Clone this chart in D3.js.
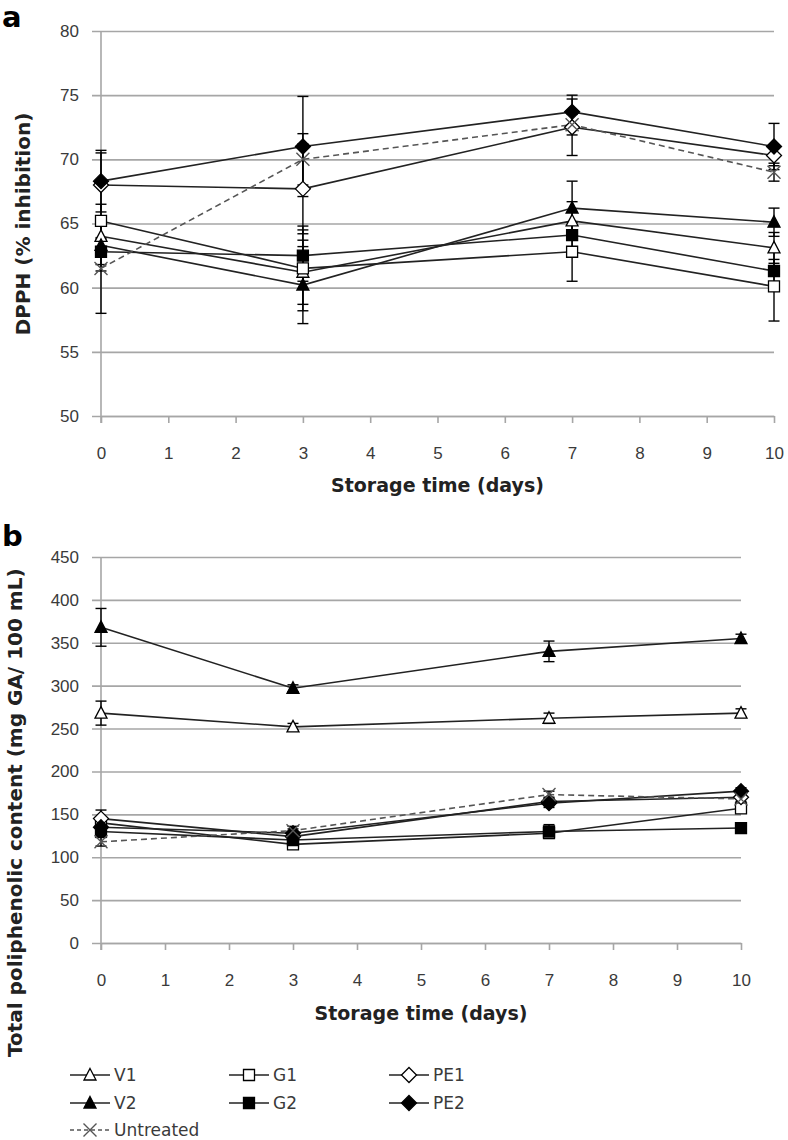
<!DOCTYPE html>
<html>
<head>
<meta charset="utf-8">
<script src="https://cdn.jsdelivr.net/npm/d3@7"></script>
<style>
  body { margin: 0; background: #fff; }
  svg { display: block; font-family: "DejaVu Sans", Verdana, sans-serif; }
</style>
</head>
<body>
<svg id="chart" width="788" height="1140"></svg>
<script>
// storage days
const days = [0, 3, 7, 10];
const xTicks = [0, 1, 2, 3, 4, 5, 6, 7, 8, 9, 10];
const seriesNames = ["V1", "G1", "PE1", "V2", "G2", "PE2", "Untreated"];

// panel a: DPPH (% inhibition)
const dpphTicks = [50, 55, 60, 65, 70, 75, 80];
const v1Dpph = [64.0, 61.2, 65.2, 63.1];
const g1Dpph = [65.2, 61.5, 62.8, 60.1];
const pe1Dpph = [68.0, 67.7, 72.5, 70.3];
const v2Dpph = [63.3, 60.2, 66.2, 65.1];
const g2Dpph = [62.8, 62.5, 64.1, 61.3];
const pe2Dpph = [68.3, 71.0, 73.7, 71.0];
const untreatedDpph = [61.5, 70.0, 72.7, 69.0];
const v1DpphErr = [1.5, 2.5, 1.5, 1.2];
const g1DpphErr = [1.3, 3.3, 2.3, 2.7];
const pe1DpphErr = [2.5, 3.5, 2.2, 0.8];
const v2DpphErr = [2.0, 3.0, 2.1, 1.1];
const g2DpphErr = [1.0, 2.0, 1.0, 0.9];
const pe2DpphErr = [2.4, 3.9, 1.3, 1.8];
const untreatedDpphErr = [3.5, 2.0, 0.8, 0.7];

// panel b: total poliphenolic content
const tpcTicks = [0, 50, 100, 150, 200, 250, 300, 350, 400, 450];
const v1Tpc = [268, 252, 262, 268];
const g1Tpc = [140, 115, 128, 157];
const pe1Tpc = [145, 124, 165, 170];
const v2Tpc = [368, 297, 340, 355];
const g2Tpc = [130, 120, 130, 134];
const pe2Tpc = [135, 128, 163, 177];
const untreatedTpc = [118, 131, 173, 168];
const v1TpcErr = [14, 4, 6, 5];
const g1TpcErr = [6, 4, 5, 5];
const pe1TpcErr = [10, 5, 5, 5];
const v2TpcErr = [22, 4, 12, 5];
const g2TpcErr = [6, 5, 8, 4];
const pe2TpcErr = [8, 5, 5, 4];
const untreatedTpcErr = [5, 5, 4, 4];

const markers = {
  V1: { shape: "triangle", fill: "#fff" },
  G1: { shape: "square", fill: "#fff" },
  PE1: { shape: "diamond", fill: "#fff" },
  V2: { shape: "triangle", fill: "#000" },
  G2: { shape: "square", fill: "#000" },
  PE2: { shape: "diamond", fill: "#000" },
  Untreated: { shape: "cross", fill: "none" },
};

const gridColor = "#a6a6a6";
const lineColor = "#222";
const textColor = "#3a3a3a";

function markerPath(shape) {
  if (shape === "triangle") return "M0,-6.5L6,5L-6,5Z";
  if (shape === "square") return "M-5.5,-5.5H5.5V5.5H-5.5Z";
  if (shape === "diamond") return "M0,-7.5L7.5,0L0,7.5L-7.5,0Z";
  return "M-6.5,-6.5L6.5,6.5M-6.5,6.5L6.5,-6.5";
}

function drawMarker(g, x, y, name) {
  const m = markers[name];
  g.append("path")
    .attr("transform", `translate(${x},${y})`)
    .attr("d", markerPath(m.shape))
    .attr("fill", m.fill)
    .attr("stroke", name === "Untreated" ? "#555" : "#000")
    .attr("stroke-width", name === "Untreated" ? 1.4 : 1.3);
}

const svg = d3.select("#chart");

function drawPanel(p) {
  const x = d3.scaleLinear().domain([0, 10]).range([p.left, p.right]);
  const y = d3.scaleLinear().domain(p.domain).range([p.bottom, p.top]);

  // gridlines and y ticks
  const yAxis = svg.append("g")
    .attr("transform", `translate(${p.left},0)`)
    .call(d3.axisLeft(y).tickValues(p.yTicks).tickSize(0).tickPadding(22));
  yAxis.select(".domain").remove();
  yAxis.selectAll(".tick text")
    .attr("fill", textColor).style("font-size", "17px");
  yAxis.selectAll(".tick").append("line")
    .attr("x1", -9).attr("x2", p.right - p.left)
    .attr("stroke", gridColor).attr("stroke-width", 1.6);

  // x axis
  const xAxis = svg.append("g")
    .attr("transform", `translate(0,${p.bottom})`)
    .call(d3.axisBottom(x).tickValues(xTicks).tickSize(7).tickSizeOuter(0).tickPadding(24));
  xAxis.select(".domain").attr("stroke", gridColor).attr("stroke-width", 1.6);
  xAxis.selectAll(".tick line").attr("stroke", gridColor).attr("stroke-width", 1.6);
  xAxis.selectAll(".tick text").attr("fill", textColor).style("font-size", "17px");

  // y axis line
  svg.append("line")
    .attr("x1", p.left).attr("x2", p.left)
    .attr("y1", p.top).attr("y2", p.bottom + 7)
    .attr("stroke", gridColor).attr("stroke-width", 1.6);

  const line = d3.line().x((d) => x(d[0])).y((d) => y(d[1]));
  const g = svg.append("g");

  // error bars first
  p.series.forEach((s) => {
    s.values.forEach((v, i) => {
      const cx = x(days[i]);
      const lo = y(v - s.err[i]);
      const hi = y(v + s.err[i]);
      g.append("line").attr("x1", cx).attr("x2", cx).attr("y1", lo).attr("y2", hi)
        .attr("stroke", "#000").attr("stroke-width", 1.4);
      [lo, hi].forEach((yy) => {
        g.append("line").attr("x1", cx - 5.5).attr("x2", cx + 5.5).attr("y1", yy).attr("y2", yy)
          .attr("stroke", "#000").attr("stroke-width", 1.4);
      });
    });
  });

  p.series.forEach((s) => {
    g.append("path")
      .datum(s.values.map((v, i) => [days[i], v]))
      .attr("d", line)
      .attr("fill", "none")
      .attr("stroke", s.name === "Untreated" ? "#555" : lineColor)
      .attr("stroke-width", 1.6)
      .attr("stroke-dasharray", s.name === "Untreated" ? "6,4" : null);
  });

  p.series.forEach((s) => {
    s.values.forEach((v, i) => drawMarker(g, x(days[i]), y(v), s.name));
  });

  // axis titles
  svg.append("text")
    .attr("x", (p.left + p.right) / 2).attr("y", p.xTitleY)
    .attr("text-anchor", "middle")
    .style("font-size", "19px").style("font-weight", "bold").attr("fill", "#222")
    .text("Storage time (days)");
  svg.append("text")
    .attr("transform", `translate(${p.yTitleX},${p.yTitleY}) rotate(-90)`)
    .attr("text-anchor", p.yTitleAnchor)
    .style("font-size", "20px").style("font-weight", "bold").attr("fill", "#222")
    .text(p.yTitle);

  svg.append("text")
    .attr("x", 2).attr("y", p.letterY)
    .style("font-size", "29px").style("font-weight", "bold")
    .text(p.letter);
}

drawPanel({
  letter: "a", letterY: 27,
  left: 101, right: 774, top: 31, bottom: 416,
  domain: [50, 80], yTicks: dpphTicks,
  yTitle: "DPPH (% inhibition)", yTitleX: 30, yTitleY: 224, yTitleAnchor: "middle",
  xTitleY: 492,
  series: [
    { name: "V1", values: v1Dpph, err: v1DpphErr },
    { name: "G1", values: g1Dpph, err: g1DpphErr },
    { name: "PE1", values: pe1Dpph, err: pe1DpphErr },
    { name: "V2", values: v2Dpph, err: v2DpphErr },
    { name: "G2", values: g2Dpph, err: g2DpphErr },
    { name: "PE2", values: pe2Dpph, err: pe2DpphErr },
    { name: "Untreated", values: untreatedDpph, err: untreatedDpphErr },
  ],
});

drawPanel({
  letter: "b", letterY: 546,
  left: 101, right: 741, top: 557, bottom: 943,
  domain: [0, 450], yTicks: tpcTicks,
  yTitle: "Total poliphenolic content (mg GA/ 100 mL)", yTitleX: 22, yTitleY: 1057, yTitleAnchor: "start",
  xTitleY: 1020,
  series: [
    { name: "V1", values: v1Tpc, err: v1TpcErr },
    { name: "G1", values: g1Tpc, err: g1TpcErr },
    { name: "PE1", values: pe1Tpc, err: pe1TpcErr },
    { name: "V2", values: v2Tpc, err: v2TpcErr },
    { name: "G2", values: g2Tpc, err: g2TpcErr },
    { name: "PE2", values: pe2Tpc, err: pe2TpcErr },
    { name: "Untreated", values: untreatedTpc, err: untreatedTpcErr },
  ],
});

// legend
const legendCols = [70, 229, 389];
const legendRows = [1075, 1103, 1130];
const legend = svg.append("g");
seriesNames.forEach((name, i) => {
  const col = name === "Untreated" ? 0 : i % 3;
  const row = name === "Untreated" ? 2 : Math.floor(i / 3);
  const lx = legendCols[col];
  const ly = legendRows[row];
  legend.append("line")
    .attr("x1", lx).attr("x2", lx + 40).attr("y1", ly).attr("y2", ly)
    .attr("stroke", name === "Untreated" ? "#555" : lineColor).attr("stroke-width", 1.5)
    .attr("stroke-dasharray", name === "Untreated" ? "4,3" : null);
  drawMarker(legend, lx + 20, ly, name);
  legend.append("text")
    .attr("x", lx + 44).attr("y", ly + 6)
    .style("font-size", "17px").attr("fill", textColor)
    .text(name);
});
</script>
</body>
</html>
